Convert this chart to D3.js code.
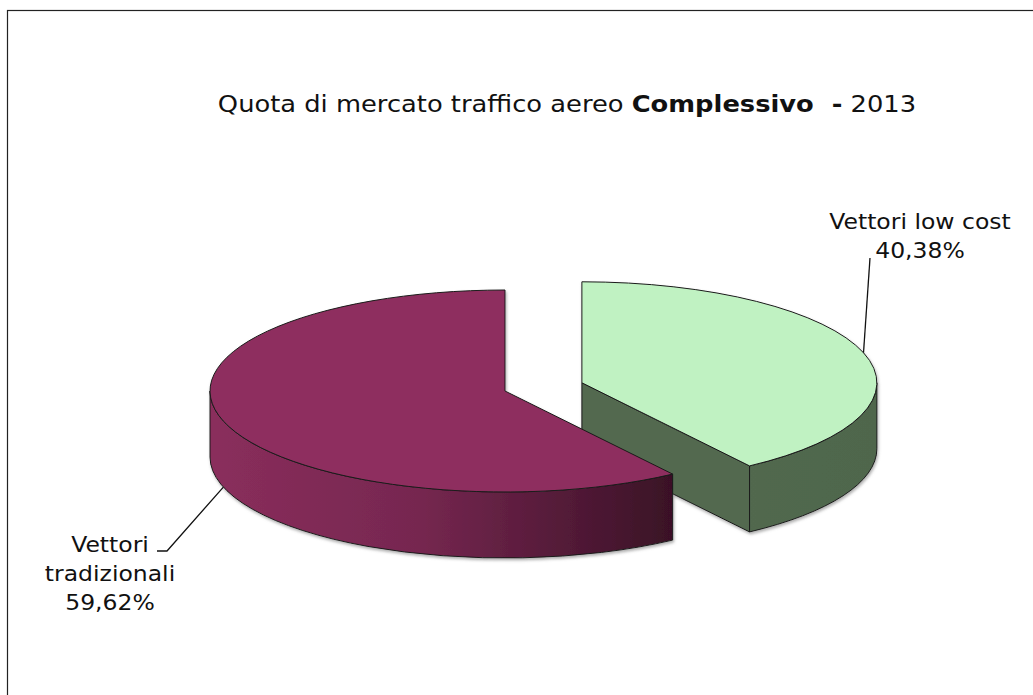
<!DOCTYPE html>
<html>
<head>
<meta charset="utf-8">
<script src="https://cdn.jsdelivr.net/npm/d3@7"></script>
<style>
  html, body { margin: 0; padding: 0; background: #fff; }
  svg { display: block; font-family: "DejaVu Sans", Verdana, sans-serif; }
</style>
</head>
<body>
<svg id="chart"></svg>
<script>
// dati
const categories = ["Vettori low cost", "Vettori tradizionali"];
const values = [40.38, 59.62];
const valueLabels = ["40,38%", "59,62%"];
const explode = [0.273, 0];
const topColors = ["#c0f2c2", "#8e2f5e"];

const width = 1033;
const height = 695;
const stretch = 1.12; // il testo originale e' allargato in orizzontale

// geometria della torta 3d
const cx = 505, cy = 391;
const rx = 295, ry = 101;
const depth = 66;

let svg = d3.select("#chart")
  .attr("width", width)
  .attr("height", height);

let defs = svg.append("defs");

let grad = defs.append("linearGradient")
  .attr("id", "sideMaroon")
  .attr("gradientUnits", "userSpaceOnUse")
  .attr("x1", cx - rx).attr("x2", 672)
  .attr("y1", 0).attr("y2", 0);
grad.append("stop").attr("offset", "0%").attr("stop-color", "#8a2e5c");
grad.append("stop").attr("offset", "45%").attr("stop-color", "#762750");
grad.append("stop").attr("offset", "100%").attr("stop-color", "#3a1126");

let gradG = defs.append("linearGradient")
  .attr("id", "sideGreen")
  .attr("gradientUnits", "userSpaceOnUse")
  .attr("x1", 580).attr("x2", 880)
  .attr("y1", 0).attr("y2", 0);
gradG.append("stop").attr("offset", "0%").attr("stop-color", "#546b51");
gradG.append("stop").attr("offset", "100%").attr("stop-color", "#4f664c");

let shadow = defs.append("filter").attr("id", "shadow")
  .attr("x", "-10%").attr("y", "-10%").attr("width", "120%").attr("height", "130%");
shadow.append("feDropShadow")
  .attr("dx", 1).attr("dy", 2).attr("stdDeviation", 1.5)
  .attr("flood-color", "#777").attr("flood-opacity", 0.6);

// bordo
svg.append("rect")
  .attr("x", 7.5).attr("y", 10.5)
  .attr("width", 1040).attr("height", 700)
  .attr("fill", "none")
  .attr("stroke", "#222")
  .attr("stroke-width", 1.2);

// titolo
let title = svg.append("text")
  .attr("transform", "translate(567,112) scale(" + stretch + ",1)")
  .attr("text-anchor", "middle")
  .attr("font-size", 23)
  .attr("fill", "#111")
  .attr("xml:space", "preserve");
title.append("tspan").text("Quota di mercato traffico aereo ");
title.append("tspan").attr("font-weight", "bold").text("Complessivo  -");
title.append("tspan").text(" 2013");

let pie = d3.pie().sort(null).startAngle(0).endAngle(2 * Math.PI);
let arcs = pie(values);

// centro di ogni fetta (con esplosione)
let centers = arcs.map((a, i) => {
  let mid = (a.startAngle + a.endAngle) / 2;
  let e = explode[i] * rx;
  return [cx + e * Math.sin(mid), cy - e * Math.cos(mid) * (ry / rx)];
});

let pt = (c, ang, dy) => [c[0] + rx * Math.sin(ang), c[1] - ry * Math.cos(ang) + (dy || 0)];

let topPath = (a, c) => {
  let p0 = pt(c, a.startAngle), p1 = pt(c, a.endAngle);
  let large = (a.endAngle - a.startAngle) > Math.PI ? 1 : 0;
  return "M" + c + "L" + p0 + "A" + rx + "," + ry + " 0 " + large + " 1 " + p1 + "Z";
};

let sidePath = (a, c) => {
  let s = Math.max(a.startAngle, Math.PI / 2);
  let e = Math.min(a.endAngle, 3 * Math.PI / 2);
  if (e <= s) return null;
  let p0 = pt(c, s), p1 = pt(c, e);
  let q1 = pt(c, e, depth), q0 = pt(c, s, depth);
  return "M" + p0 + "A" + rx + "," + ry + " 0 0 1 " + p1 +
    "L" + q1 + "A" + rx + "," + ry + " 0 0 0 " + q0 + "Z";
};

let radialPath = (c, ang) => {
  let p = pt(c, ang);
  return "M" + c + "L" + p + "L" + [p[0], p[1] + depth] + "L" + [c[0], c[1] + depth] + "Z";
};

let sideFills = ["url(#sideGreen)", "url(#sideMaroon)"];

// verde prima, poi il bordeaux che la copre
let pieG = svg.append("g").attr("filter", "url(#shadow)");
arcs.forEach((a, i) => {
  let c = centers[i];
  let g = pieG.append("g").attr("class", "slice");
  if (i === 0) {
    g.append("path")
      .attr("d", radialPath(c, a.endAngle))
      .attr("fill", "#52694f")
      .attr("stroke", "#1a1a1a").attr("stroke-width", 1)
      .attr("stroke-linejoin", "round");
  }
  let sp = sidePath(a, c);
  if (sp) {
    g.append("path")
      .attr("d", sp)
      .attr("fill", sideFills[i])
      .attr("stroke", "#1a1a1a").attr("stroke-width", 1)
      .attr("stroke-linejoin", "round");
  }
  g.append("path")
    .attr("d", topPath(a, c))
    .attr("fill", topColors[i])
    .attr("stroke", "#1a1a1a").attr("stroke-width", 1)
    .attr("stroke-linejoin", "round");
});

// etichette
let lblText = (x, y, lines) => {
  let t = svg.append("text")
    .attr("transform", "translate(" + x + "," + y + ") scale(" + stretch + ",1)")
    .attr("font-size", 21)
    .attr("fill", "#111")
    .attr("text-anchor", "middle");
  lines.forEach((s, k) => {
    t.append("tspan").attr("x", 0).attr("dy", k === 0 ? 0 : 29).text(s);
  });
};

// low cost
let mid0 = (arcs[0].startAngle + arcs[0].endAngle) / 2;
let lcAnchor = pt(centers[0], mid0);
svg.append("path")
  .attr("d", "M" + lcAnchor + "L870,258")
  .attr("fill", "none").attr("stroke", "#111").attr("stroke-width", 1.3);
lblText(920, 229, [categories[0], valueLabels[0]]);

// tradizionali
let mid1 = (arcs[1].startAngle + arcs[1].endAngle) / 2;
let trAnchor = pt(centers[1], mid1, depth);
svg.append("path")
  .attr("d", "M" + trAnchor + "L167,551L157,551")
  .attr("fill", "none").attr("stroke", "#111").attr("stroke-width", 1.3);
let words = categories[1].split(" ");
lblText(110, 552, [words[0], words[1], valueLabels[1]]);
</script>
</body>
</html>
